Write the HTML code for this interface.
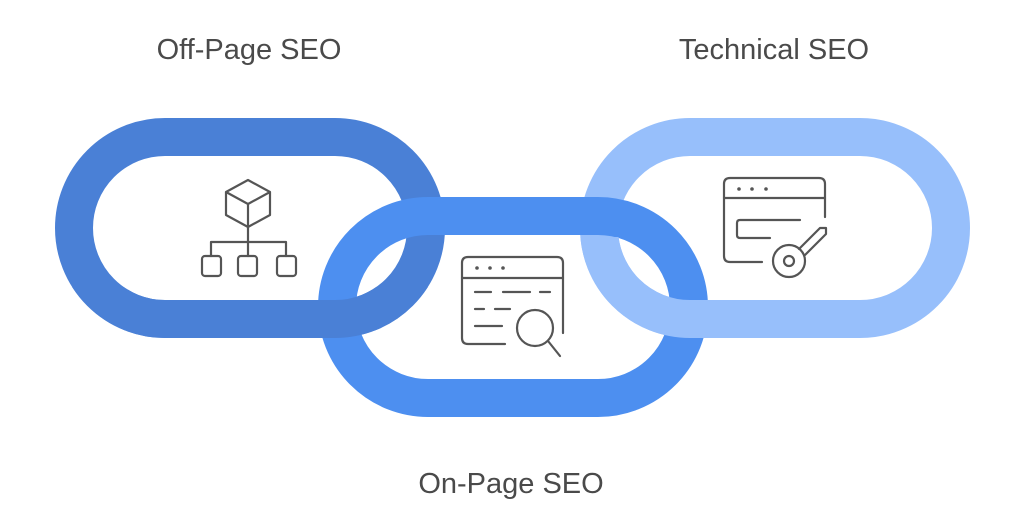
<!DOCTYPE html>
<html><head><style>
html,body{margin:0;padding:0;background:#fff;width:1024px;height:523px;overflow:hidden}
.t{position:absolute;font-family:"Liberation Sans",sans-serif;font-size:29px;color:#4a4a4a;transform:translateX(-50%);white-space:nowrap}
</style></head><body>
<div class="t" style="left:249px;top:34px">Off-Page SEO</div>
<div class="t" style="left:774px;top:34px">Technical SEO</div>
<div class="t" style="left:511px;top:468px">On-Page SEO</div>
<svg width="1024" height="523" style="position:absolute;left:0;top:0">
<defs>
<clipPath id="cl"><rect x="0" y="287" width="1024" height="100"/></clipPath>
<clipPath id="cr"><rect x="560" y="237" width="200" height="120"/></clipPath>
</defs>
<g fill="none" stroke-width="38">
<rect x="74" y="137" width="352" height="182" rx="91" stroke="#4a80d6"/>
<rect x="599" y="137" width="352" height="182" rx="91" stroke="#97bffb"/>
<rect x="337" y="216" width="352" height="182" rx="91" stroke="#4d8ff0"/>
<rect x="74" y="137" width="352" height="182" rx="91" stroke="#4a80d6" clip-path="url(#cl)"/>
<rect x="599" y="137" width="352" height="182" rx="91" stroke="#97bffb" clip-path="url(#cr)"/>
</g>
<g fill="none" stroke="#555" stroke-width="2.2" stroke-linecap="round" stroke-linejoin="round">
<!-- left icon -->
<path d="M248 180 L270 192 L270 215 L248 227 L226 215 L226 192 Z M226 192 L248 204 L270 192 M248 204 L248 227"/>
<path d="M248 227 L248 242 M211 242 L286 242 M211 242 L211 256 M248 242 L248 256 M286 242 L286 256"/>
<rect x="202" y="256" width="19" height="20" rx="3"/>
<rect x="238" y="256" width="19" height="20" rx="3"/>
<rect x="277" y="256" width="19" height="20" rx="3"/>
<!-- middle icon -->
<path d="M505 344 L468 344 Q462 344 462 338 L462 263 Q462 257 468 257 L557 257 Q563 257 563 263 L563 333"/>
<path d="M462 278 L563 278"/>
<path d="M475 292 L491 292 M503 292 L530 292 M540 292 L550 292 M475 309 L484 309 M495 309 L510 309 M475 326 L502 326"/>
<circle cx="535" cy="328" r="18"/>
<path d="M548 341 L560 356"/>
<!-- right icon -->
<path d="M762 262 L730 262 Q724 262 724 256 L724 184 Q724 178 730 178 L819 178 Q825 178 825 184 L825 217"/>
<path d="M724 198 L825 198"/>
<path d="M800 220 L740 220 Q737 220 737 223 L737 235 Q737 238 740 238 L770 238"/>
<circle cx="789" cy="261" r="16"/>
<circle cx="789" cy="261" r="5"/>
<path d="M799 249 L820 228 L826 228 L826 234 L805 255"/>
</g>
<g fill="#555">
<circle cx="739" cy="189" r="1.8"/><circle cx="752" cy="189" r="1.8"/><circle cx="766" cy="189" r="1.8"/>
<circle cx="477" cy="268" r="1.8"/><circle cx="490" cy="268" r="1.8"/><circle cx="503" cy="268" r="1.8"/>
</g>
</svg>
</body></html>
